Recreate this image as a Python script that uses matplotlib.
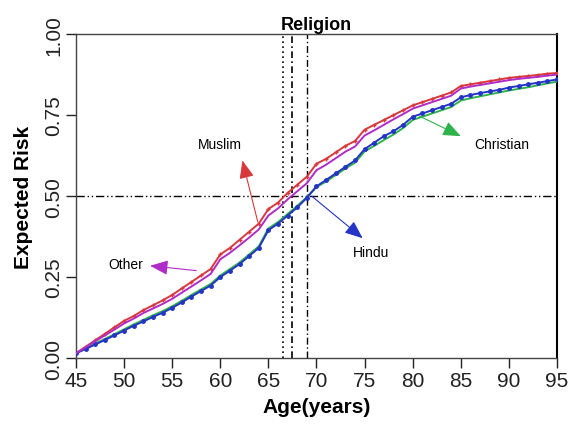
import numpy as np
import matplotlib.pyplot as plt

plt.rcParams['font.family'] = ['Liberation Sans', 'DejaVu Sans']

ages = np.arange(45, 96)

muslim = [0.015, 0.035, 0.055, 0.075, 0.095, 0.115, 0.130, 0.148, 0.163, 0.178,
          0.195, 0.215, 0.235, 0.255, 0.275, 0.320, 0.340, 0.365, 0.390, 0.415,
          0.460, 0.480, 0.510, 0.535, 0.560, 0.600, 0.615, 0.635, 0.655, 0.670,
          0.705, 0.720, 0.735, 0.750, 0.765, 0.780, 0.790, 0.800, 0.810, 0.820,
          0.840, 0.845, 0.850, 0.855, 0.860, 0.865, 0.868, 0.871, 0.874, 0.878,
          0.880]
other = [0.015, 0.033, 0.052, 0.070, 0.088, 0.107, 0.122, 0.139, 0.153, 0.167,
         0.183, 0.202, 0.221, 0.240, 0.260, 0.305, 0.325, 0.348, 0.372, 0.397,
         0.440, 0.462, 0.490, 0.515, 0.540, 0.580, 0.597, 0.617, 0.637, 0.653,
         0.687, 0.703, 0.720, 0.737, 0.753, 0.770, 0.780, 0.790, 0.800, 0.810,
         0.832, 0.838, 0.843, 0.848, 0.853, 0.858, 0.862, 0.865, 0.868, 0.872,
         0.875]
hindu = [0.015, 0.028, 0.042, 0.056, 0.070, 0.085, 0.100, 0.113, 0.127, 0.140,
         0.155, 0.172, 0.190, 0.207, 0.224, 0.250, 0.270, 0.290, 0.315, 0.340,
         0.395, 0.415, 0.440, 0.465, 0.495, 0.530, 0.550, 0.570, 0.590, 0.610,
         0.645, 0.665, 0.685, 0.700, 0.720, 0.745, 0.755, 0.765, 0.775, 0.785,
         0.805, 0.812, 0.818, 0.823, 0.828, 0.835, 0.840, 0.845, 0.850, 0.855,
         0.860]
christian = [0.015, 0.030, 0.045, 0.059, 0.074, 0.089, 0.104, 0.118, 0.132, 0.145,
             0.160, 0.177, 0.195, 0.212, 0.229, 0.255, 0.275, 0.295, 0.320, 0.345,
             0.400, 0.420, 0.445, 0.470, 0.497, 0.528, 0.545, 0.565, 0.585, 0.603,
             0.638, 0.655, 0.673, 0.690, 0.710, 0.735, 0.745, 0.755, 0.765, 0.775,
             0.795, 0.802, 0.808, 0.814, 0.820, 0.826, 0.831, 0.836, 0.842, 0.848,
             0.853]

median_ages = [66.5, 67.5, 69.0]

fig = plt.figure(figsize=(5.73, 4.39), dpi=100)
ax = fig.add_axes([0.1326, 0.182, 0.8395, 0.738])

c_red = '#d8383c'
c_purple = '#b02cc8'
c_green = '#2eb24a'
c_blue = '#2434c4'

ax.plot(ages, christian, color=c_green, lw=1.4, zorder=3)
ax.plot(ages, hindu, color=c_blue, lw=1.4, marker='o', ms=2.5, zorder=4)
ax.plot(ages, muslim, color=c_red, lw=1.4, marker='+', ms=3, zorder=3)
ax.plot(ages, other, color=c_purple, lw=1.4, zorder=4)

# median lines
ax.axhline(0.5, color='black', lw=1, dashes=(6, 2, 1, 2, 1, 2), zorder=2)
ax.axvline(median_ages[0], color='black', lw=1.2, dashes=(1, 2), zorder=2)
ax.axvline(median_ages[1], color='black', lw=1.2, dashes=(4, 2, 1, 2), zorder=2)
ax.axvline(median_ages[2], color='black', lw=1, dashes=(5, 2, 1, 2), zorder=2)

def label(xy, xytext, color):
    ax.annotate('', xy=xytext, xytext=xy,
                arrowprops=dict(arrowstyle='-|>,head_length=1.1,head_width=0.45',
                                color=color, lw=0.8, shrinkA=0, shrinkB=0))

label((63.9, 0.42), (62.3, 0.61), c_red)
label((57.5, 0.27), (52.7, 0.285), c_purple)
label((69.5, 0.50), (74.8, 0.37), c_blue)
label((80.7, 0.747), (85.0, 0.685), c_green)

ax.text(60.0, 0.66, 'Muslim', fontsize=10, ha='center', va='center')
ax.text(50.2, 0.29, 'Other', fontsize=10, ha='center', va='center')
ax.text(75.7, 0.327, 'Hindu', fontsize=10, ha='center', va='center')
ax.text(89.3, 0.66, 'Christian', fontsize=10, ha='center', va='center')

ax.set_xlim(45, 95)
ax.set_ylim(0, 1)
ax.set_xticks(np.arange(45, 96, 5))
ax.set_yticks([0, 0.25, 0.5, 0.75, 1.0])
ax.set_yticklabels(['0.00', '0.25', '0.50', '0.75', '1.00'], rotation=90, va='center')
ax.tick_params(labelsize=15, length=7, width=1, direction='out', colors='#222222')
ax.tick_params(axis='x', pad=2)
ax.tick_params(axis='y', pad=2)

for s in ax.spines.values():
    s.set_color('#444444')
    s.set_linewidth(1)
ax.spines['right'].set_color('black')
ax.spines['right'].set_linewidth(1.5)

ax.set_title('Religion', fontsize=13, fontweight='bold', pad=4)
ax.set_xlabel('Age(years)', fontsize=15, fontweight='bold', labelpad=5)
ax.set_ylabel('Expected Risk', fontsize=15, fontweight='bold', labelpad=8)

fig.savefig('out.png', dpi=100)
